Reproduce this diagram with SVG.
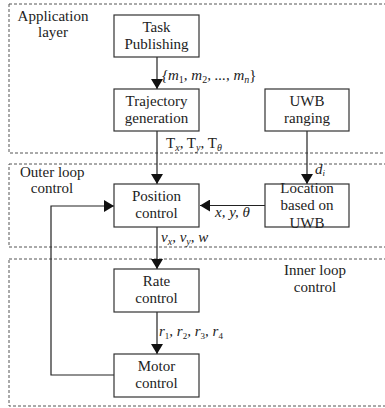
<svg xmlns="http://www.w3.org/2000/svg" width="385" height="408" viewBox="0 0 385 408" font-family="'Liberation Serif','Times New Roman',Tinos,'DejaVu Serif',serif">
<defs>
<marker id="ah" markerWidth="10" markerHeight="12" refX="10" refY="6" orient="auto" markerUnits="userSpaceOnUse">
<path d="M0,0 L10,6 L0,12 Z" fill="#111"/>
</marker>
</defs>
<style>
text{font-family:'Liberation Serif','Times New Roman',Tinos,'DejaVu Serif',serif}
.region{fill:none;stroke:#555;stroke-width:1;stroke-dasharray:3,2}
.box{fill:#fff;stroke:#333;stroke-width:1.2}
.t{font-size:15px;fill:#222;text-anchor:middle}
.tl{font-size:15px;fill:#222}
.m{font-size:15px;font-style:italic;fill:#222}
.r{font-size:15px;fill:#222}
.c{fill:none;stroke:#222;stroke-width:1.2}
</style>
<g id="regions">
<rect class="region" x="9" y="4" width="390" height="149"/>
<rect class="region" x="9" y="164" width="390" height="83"/>
<rect class="region" x="9" y="259" width="390" height="147"/>
<text class="t" x="53" y="21">Application</text>
<text class="t" x="53" y="37">layer</text>
<text class="tl" x="20" y="177">Outer loop</text>
<text class="t" x="52" y="193">control</text>
<text class="t" x="315" y="275">Inner loop</text>
<text class="t" x="315" y="292">control</text>
</g>
<g id="connectors">
<line class="c" x1="157" y1="57" x2="157" y2="89" marker-end="url(#ah)"/>
<line class="c" x1="157" y1="131" x2="157" y2="184" marker-end="url(#ah)"/>
<line class="c" x1="307" y1="131" x2="307" y2="184" marker-end="url(#ah)"/>
<line class="c" x1="265" y1="205.5" x2="200" y2="205.5" marker-end="url(#ah)"/>
<line class="c" x1="157" y1="227" x2="157" y2="269" marker-end="url(#ah)"/>
<line class="c" x1="157" y1="312" x2="157" y2="354" marker-end="url(#ah)"/>
<polyline class="c" points="114,375 51,375 51,206 114,206" marker-end="url(#ah)"/>
<text class="m" x="162" y="80">{<tspan>m</tspan><tspan font-size="10" font-style="normal" dy="3">1</tspan><tspan dy="-3">, m</tspan><tspan font-size="10" font-style="normal" dy="3">2</tspan><tspan dy="-3">, ..., m</tspan><tspan font-size="10" dy="3">n</tspan><tspan dy="-3" font-style="normal">}</tspan></text>
<text class="r" x="166" y="148">T<tspan font-style="italic" font-size="10" dy="3">x</tspan><tspan dy="-3">, T</tspan><tspan font-style="italic" font-size="10" dy="3">y</tspan><tspan dy="-3">, T</tspan><tspan font-style="italic" font-size="10" dy="3">θ</tspan></text>
<text class="m" x="315" y="174">d<tspan font-size="9" dy="2">i</tspan></text>
<text class="m" x="215" y="217">x, y, θ</text>
<text class="m" x="161" y="242">v<tspan font-size="10" dy="3">x</tspan><tspan dy="-3">, v</tspan><tspan font-size="10" dy="3">y</tspan><tspan dy="-3">, w</tspan></text>
<text class="m" x="159" y="336" font-size="13">r<tspan font-size="9" font-style="normal" dy="3">1</tspan><tspan dy="-3">, r</tspan><tspan font-size="9" font-style="normal" dy="3">2</tspan><tspan dy="-3">, r</tspan><tspan font-size="9" font-style="normal" dy="3">3</tspan><tspan dy="-3">, r</tspan><tspan font-size="9" font-style="normal" dy="3">4</tspan></text>
</g>
<g id="task">
<rect class="box" x="114" y="15" width="85" height="42"/>
<text class="t" x="156.5" y="32">Task</text>
<text class="t" x="156.5" y="49">Publishing</text>
</g>
<g id="trajectory">
<rect class="box" x="114" y="89" width="85" height="42"/>
<text class="t" x="156.5" y="106">Trajectory</text>
<text class="t" x="156.5" y="123">generation</text>
</g>
<g id="uwb">
<rect class="box" x="265" y="89" width="84" height="42"/>
<text class="t" x="307" y="106">UWB</text>
<text class="t" x="307" y="123">ranging</text>
</g>
<g id="position">
<rect class="box" x="114" y="184" width="85" height="43"/>
<text class="t" x="156.5" y="201">Position</text>
<text class="t" x="156.5" y="218">control</text>
</g>
<g id="location">
<rect class="box" x="265" y="184" width="84" height="43"/>
<text class="t" x="307" y="193">Location</text>
<text class="t" x="307" y="210">based on</text>
<text class="t" x="307" y="228">UWB</text>
</g>
<g id="rate">
<rect class="box" x="114" y="269" width="85" height="43"/>
<text class="t" x="156.5" y="286">Rate</text>
<text class="t" x="156.5" y="303">control</text>
</g>
<g id="motor">
<rect class="box" x="114" y="354" width="85" height="43"/>
<text class="t" x="156.5" y="371">Motor</text>
<text class="t" x="156.5" y="388">control</text>
</g>
</svg>
